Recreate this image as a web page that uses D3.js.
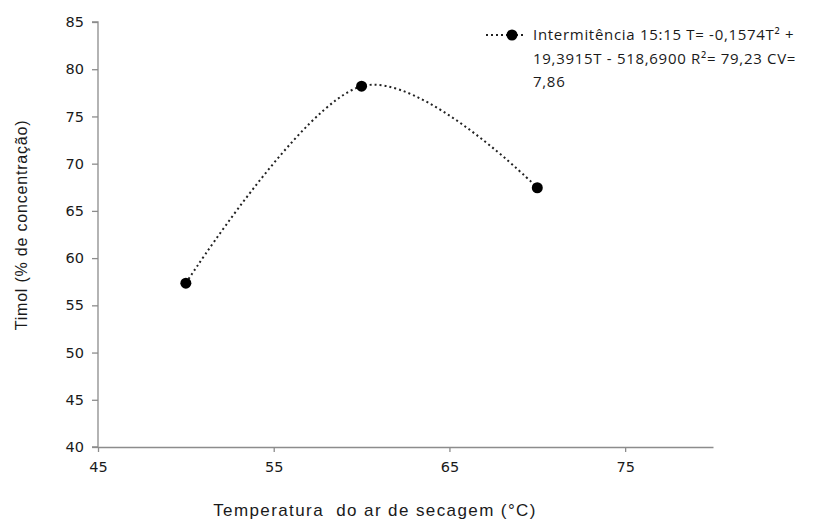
<!DOCTYPE html>
<html>
<head>
<meta charset="utf-8">
<script src="https://cdn.jsdelivr.net/npm/d3@7"></script>
<style>
  body { margin: 0; background: #fff; }
  text { fill: #1a1a1a; }
</style>
</head>
<body>
<div id="dataviz"></div>
<script>
// data
var temperatures = [50, 60, 70];
var timol = [57.35, 78.2, 67.45];
var xTicks = [45, 55, 65, 75];
var yTicks = [40, 45, 50, 55, 60, 65, 70, 75, 80, 85];
var legendLines = [
    "Intermitência 15:15 T= -0,1574T² +",
    "19,3915T - 518,6900 R²= 79,23 CV=",
    "7,86"
];

var width = 825, height = 519;
var margin = {top: 22, right: 112, bottom: 72, left: 98};
var w = width - margin.left - margin.right;
var h = height - margin.top - margin.bottom;

var svg = d3.select("#dataviz")
  .append("svg")
    .attr("width", width)
    .attr("height", height)
  .append("g")
    .attr("transform", "translate(" + margin.left + "," + margin.top + ")");

var x = d3.scaleLinear().domain([45, 80]).range([0, w]);
var y = d3.scaleLinear().domain([40, 85]).range([h, 0]);

// y axis
var yAxis = svg.append("g")
    .call(d3.axisLeft(y).tickValues(yTicks).tickSize(6).tickPadding(8));
// x axis
var xAxis = svg.append("g")
    .attr("transform", "translate(0," + h + ")")
    .call(d3.axisBottom(x).tickValues(xTicks).tickSize(5).tickPadding(10).tickSizeOuter(0));

[yAxis, xAxis].forEach(function(a) {
    a.select(".domain").attr("stroke", "#8c8c8c").attr("stroke-width", 1.3);
    a.selectAll(".tick line").attr("stroke", "#8c8c8c").attr("stroke-width", 1.3);
    a.selectAll(".tick text")
        .style("font-family", "'DejaVu Sans', sans-serif")
        .style("font-size", "14.5px")
        .attr("fill", "#1a1a1a");
});
yAxis.select(".domain").attr("d", "M-6," + h + "H0V0H-6");

// smoothed dotted line
svg.append("path")
    .datum(temperatures.map(function(t, i) { return [t, timol[i]]; }))
    .attr("fill", "none")
    .attr("stroke", "#222")
    .attr("stroke-width", 2)
    .attr("stroke-dasharray", "2,3")
    .attr("d", d3.line()
        .curve(d3.curveCardinal.tension(0))
        .x(function(d) { return x(d[0]); })
        .y(function(d) { return y(d[1]); }));

svg.selectAll(".pt")
    .data(temperatures)
    .enter()
    .append("circle")
        .attr("cx", function(d) { return x(d); })
        .attr("cy", function(d, i) { return y(timol[i]); })
        .attr("r", 5.5)
        .attr("fill", "#000");

// legend
var lg = svg.append("g").attr("transform", "translate(" + (388) + "," + (13) + ")");
lg.append("line")
    .attr("x1", 0).attr("x2", 38)
    .attr("y1", 0).attr("y2", 0)
    .attr("stroke", "#222").attr("stroke-width", 2)
    .attr("stroke-dasharray", "2,3");
lg.append("circle").attr("cx", 26).attr("cy", 0).attr("r", 5.5).attr("fill", "#000");
lg.selectAll(".lt")
    .data(legendLines)
    .enter()
    .append("text")
        .attr("x", 47)
        .attr("y", function(d, i) { return 5 + i * 23.5; })
        .style("font-family", "'Open Sans', sans-serif")
        .style("font-size", "15px")
        .style("letter-spacing", "0.7px")
        .text(function(d) { return d; });

// axis titles
svg.append("text")
    .attr("x", (375 - margin.left))
    .attr("y", h + 69)
    .style("text-anchor", "middle")
    .style("white-space", "pre")
    .style("font-family", "'Liberation Sans', Arial, sans-serif")
    .style("font-size", "17px")
    .style("letter-spacing", "1.4px")
    .text("Temperatura  do ar de secagem (°C)");

svg.append("text")
    .attr("transform", "translate(" + (27 - margin.left) + "," + (225 - margin.top) + ") rotate(-90)")
    .style("text-anchor", "middle")
    .style("font-family", "'Liberation Sans', Arial, sans-serif")
    .style("font-size", "16px")
    .style("letter-spacing", "0.8px")
    .text("Timol (% de concentração)");
</script>
</body>
</html>
